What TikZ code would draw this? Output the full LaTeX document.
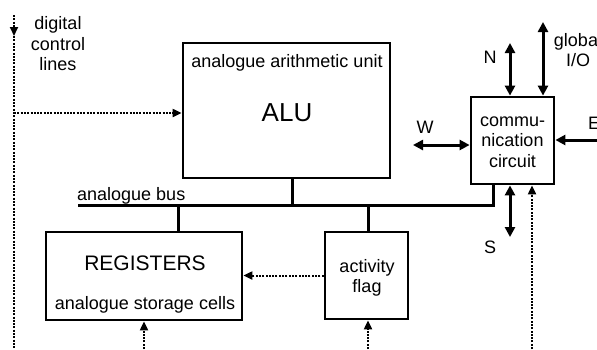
\documentclass[tikz,border=0pt]{standalone}
\usepackage{fontspec}
\setmainfont{Liberation Sans}
\usetikzlibrary{arrows.meta}
\begin{document}
\begin{tikzpicture}[x=1pt,y=-1pt,
 box/.style={draw,line width=2.8pt,inner sep=0pt},
 txt/.style={font=\fontsize{18}{20.5}\selectfont, inner sep=0pt, align=center},
 wire/.style={line width=3pt},
 dbl/.style={line width=3pt,{Triangle[length=10pt,width=10pt]}-{Triangle[length=10pt,width=10pt]}},
 ctl/.style={line width=2pt,dash pattern=on 2pt off 1.3pt,-{Triangle[length=9pt,width=8pt]}},
]
\useasboundingbox (0,0) rectangle (597,349);
% boxes
\node[box,minimum width=207pt,minimum height=135pt] (alu) at (286.5,110.5) {};
\node[box,minimum width=196pt,minimum height=88pt] (reg) at (144,276) {};
\node[box,minimum width=83pt,minimum height=87pt] (flag) at (366.5,275.5) {};
\node[box,minimum width=83pt,minimum height=87pt] (comm) at (512.5,140.5) {};
% texts
\node[txt] (t1) at (287,63) {analogue arithmetic unit};
\node[txt,font=\fontsize{26}{30}\selectfont] (t2) at (287,113) {ALU};
\node[txt,font=\fontsize{21}{24}\selectfont] (t3) at (145,263) {REGISTERS};
\node[txt] (t4) at (145,305) {analogue storage cells};
\node[txt] (t5) at (367,278) {activity\\flag};
\node[txt] (t6) at (512.5,142) {commu-\\nication\\circuit};
\node[txt] (t7) at (58,44) {digital\\control\\lines};
\node[txt,anchor=base west] (t8) at (77,200) {analogue bus};
\node[txt] (lN) at (490,57) {N};
\node[txt] (lG) at (578,50) {global\\I/O};
\node[txt] (lW) at (425,127) {W};
\node[txt] (lE) at (594,123) {E};
\node[txt] (lS) at (490,247) {S};
% bus
\coordinate (busL) at (78,205);
\coordinate (bA) at (292,205);
\coordinate (bR) at (178,205);
\coordinate (bF) at (368,205);
\coordinate (bC) at (493,205);
\draw[wire] (busL) -- (bC) -- (comm.south -| bC);
\draw[wire] (alu.south -| bA) -- (bA);
\draw[wire] (reg.north -| bR) -- (bR);
\draw[wire] (flag.north -| bF) -- (bF);
% communication arrows
\coordinate (nT) at (510,43);
\coordinate (gT) at (543,22);
\coordinate (wL) at (413,145);
\coordinate (eR) at (615,140);
\coordinate (sB) at (510,237);
\draw[dbl] (nT) -- (comm.north -| nT);
\draw[dbl] (gT) -- (comm.north -| gT);
\draw[dbl] (wL) -- (comm.west |- wL);
\draw[dbl] (eR) -- (comm.east |- eR);
\draw[dbl] (sB) -- (comm.south -| sB);
% control lines
\coordinate (d0) at (14,15);
\coordinate (d1) at (14,36);
\coordinate (d2) at (14,113);
\coordinate (d3) at (14,349);
\draw[ctl] (d0) -- (d1);
\draw[ctl,-] (d1) -- (d3);
\draw[ctl] (d2) -- (alu.west |- d2);
\draw[ctl] (flag.west) -- (reg.east |- flag.west);
\coordinate (r0) at (144,349);
\coordinate (f0) at (368,349);
\coordinate (c0) at (532,349);
\draw[ctl] (r0) -- (reg.south -| r0);
\draw[ctl] (f0) -- (flag.south -| f0);
\draw[ctl] (c0) -- (comm.south -| c0);
\end{tikzpicture}
\end{document}
